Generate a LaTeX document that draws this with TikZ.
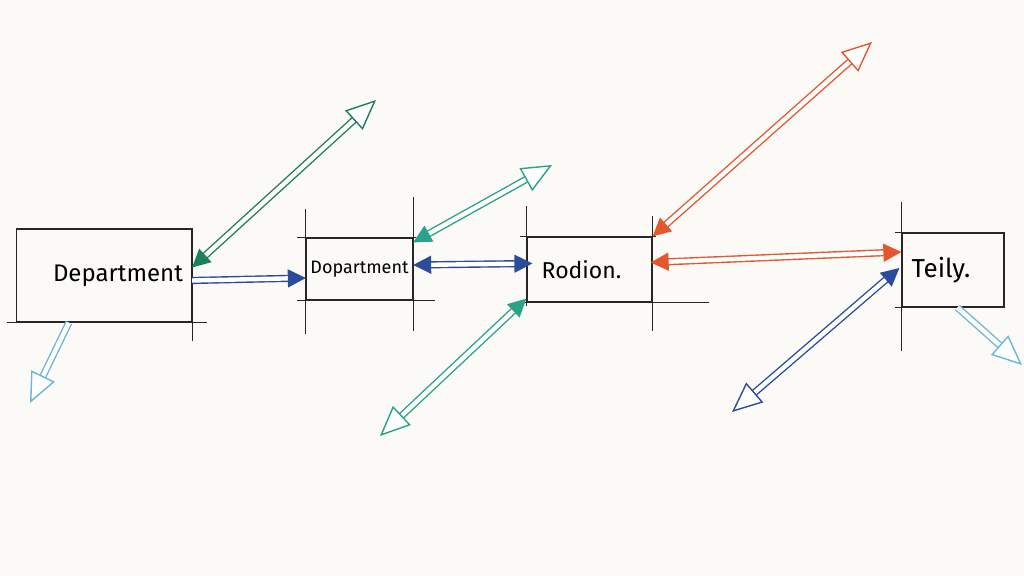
\documentclass[tikz,border=0pt]{standalone}
\usepackage{fontspec}
\setmainfont{Fira Sans}
\usetikzlibrary{arrows.meta,calc}
\definecolor{paper}{HTML}{FBFAF7}
\definecolor{dgreen}{HTML}{1E7F5C}
\definecolor{tgreen}{HTML}{2AA287}
\definecolor{skblue}{HTML}{2B4C9B}
\definecolor{lblue}{HTML}{6DB6D9}
\definecolor{skred}{HTML}{E4572E}
\tikzset{
  box/.style={draw=black!85, line width=0.6pt, inner sep=2pt},
  ext/.style={draw=black!85, line width=0.5pt},
  sk/.style={line width=0.7pt, double=white, double distance=2.2pt},
  fh/.tip={Triangle[length=9pt,width=9pt]},
  oh/.tip={Triangle[open,length=15pt,width=13pt,fill=white]},
}
\begin{document}
\begin{tikzpicture}[x=0.5pt,y=-0.5pt]
\useasboundingbox[fill=paper] (0,0) rectangle (1024,576);
% boxes
\node[box, minimum width=87.5pt, minimum height=46.5pt, font=\fontsize{12}{14}\selectfont] (b1) at (104,275.5) {\hspace*{14pt}Department};
\node[box, minimum width=52.5pt, minimum height=31pt, font=\fontsize{9}{11}\selectfont] (b2) at (359.5,269) {Dopartment};
\node[box, minimum width=62.5pt, minimum height=32.5pt, font=\fontsize{11.5}{13}\selectfont] (b3) at (589.5,269.5) {Rodion.\hspace*{8pt}};
\node[box, minimum width=51pt, minimum height=37pt, font=\fontsize{13}{15}\selectfont] (b4) at (953,270) {Teily.\hspace*{12pt}};
% extension lines
\draw[ext] ($(b1.south west)+(-9,0)$) -- ($(b1.south east)+(15,0)$);
\draw[ext] (b1.north east) -- ($(b1.south east)+(0,18)$);
\draw[ext] ($(b2.north west)+(0,-28)$) -- ($(b2.south west)+(0,33)$);
\draw[ext] ($(b2.north east)+(0,-40)$) -- ($(b2.south east)+(0,30)$);
\draw[ext] ($(b2.north west)+(-9,0)$) -- ($(b2.north east)+(3,0)$);
\draw[ext] ($(b2.south west)+(-9,0)$) -- ($(b2.south east)+(22,0)$);
\draw[ext] ($(b3.north west)+(0,-30)$) -- ($(b3.south west)+(0,3)$);
\draw[ext] ($(b3.north east)+(0,-20)$) -- ($(b3.south east)+(0,28)$);
\draw[ext] ($(b3.north west)+(-6,0)$) -- ($(b3.north east)+(3,0)$);
\draw[ext] ($(b3.south west)+(-7,0)$) -- ($(b3.south east)+(56,0)$);
\draw[ext] ($(b4.north west)+(0,-30)$) -- ($(b4.south west)+(0,43)$);
\draw[ext] ($(b4.north west)+(-6,0)$) -- (b4.north west);
\draw[ext] ($(b4.south west)+(-6,0)$) -- (b4.south west);
% far ends
\coordinate (e1) at (376,100);
\coordinate (e3) at (30,403);
\coordinate (e4) at (552,165);
\coordinate (e6) at (380,436);
\coordinate (e7) at (872,42);
\coordinate (e9) at (732,412);
\coordinate (e10) at (1022,365);
% connectors
\draw[sk, dgreen, {fh}-{oh}] ($(b1.east)+(0,-8)$) -- (e1);
\draw[sk, skblue, -{fh}] ($(b1.east)+(0,5)$) -- ($(b2.west)+(0,9)$);
\draw[sk, lblue, -{oh}] ($(b1.south west)+(53,0)$) -- (e3);
\draw[sk, tgreen, {fh}-{oh}] ($(b2.north east)+(0,5)$) -- (e4);
\draw[sk, skblue, {fh}-{fh}] ($(b2.east)+(0,-4)$) -- ($(b3.west)+(6,-6)$);
\draw[sk, tgreen, {fh}-{oh}] ($(b3.south west)+(0,-4)$) -- (e6);
\draw[sk, skred, {fh}-{oh}] ($(b3.north east)+(0,0)$) -- (e7);
\draw[sk, skred, {fh}-{fh}] ($(b3.east)+(-2,-7)$) -- ($(b4.west)+(0,-18)$);
\draw[sk, skblue, {fh}-{oh}] ($(b4.west)+(-2,-2)$) -- (e9);
\draw[sk, lblue, -{oh}] ($(b4.south west)+(56,0)$) -- (e10);
\end{tikzpicture}
\end{document}
